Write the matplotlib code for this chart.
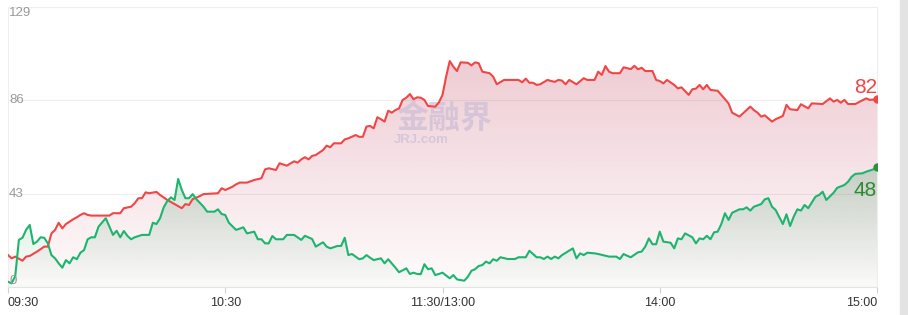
import numpy as np
import matplotlib
matplotlib.use('Agg')
import matplotlib.pyplot as plt
import matplotlib.colors as mcolors
from matplotlib.patches import Rectangle

# minutes since 09:30 (lunch break removed, 120 = 11:30/13:00)
red_t = [0, 1, 2, 4, 5, 6, 8, 9, 10, 11, 12, 13, 14, 15, 16, 18, 19, 20, 21, 22,
         23, 28, 29, 31, 32, 34, 35, 36, 37, 38, 39, 41, 42, 44, 46, 48, 49, 50, 51, 53,
         54, 58, 59, 60, 62, 63, 64, 66, 68, 70, 71, 72, 74, 75, 77, 79, 80, 81, 82, 83,
         84, 85, 87, 88, 89, 90, 92, 93, 94, 96, 97, 98, 99, 100, 101, 102, 103, 104, 105, 106,
         107, 108, 109, 110, 111, 112, 113, 114, 115, 116, 118, 119, 120, 121, 122, 123, 124, 125, 127, 128,
         129, 130, 131, 133, 134, 135, 137, 141, 142, 143, 144, 145, 146, 147, 149, 150, 151, 152, 153, 154,
         155, 157, 159, 160, 162, 163, 164, 165, 166, 167, 169, 170, 172, 173, 174, 175, 176, 178, 179, 180,
         181, 182, 184, 185, 186, 188, 189, 190, 191, 192, 193, 194, 196, 197, 199, 200, 202, 203, 205, 206,
         207, 208, 209, 211, 212, 214, 215, 216, 218, 219, 221, 222, 225, 227, 228, 229, 230, 231, 232, 234,
         237, 238, 240]
red_v = [14.7, 13.2, 14.0, 12.1, 14.0, 14.3, 16.3, 17.4, 18.6, 18.6, 24.7, 26.3, 29.6, 27.0, 29.0, 31.2, 32.1, 33.2, 34.0, 33.2,
         32.9, 32.9, 34.0, 34.0, 36.3, 37.0, 38.6, 40.9, 40.9, 43.6, 43.2, 43.8, 42.4, 40.1, 38.2, 36.3, 38.2, 37.8, 40.5, 41.9,
         42.8, 43.2, 45.5, 44.7, 46.2, 47.3, 48.1, 48.1, 49.3, 50.1, 54.2, 54.7, 53.9, 57.0, 55.9, 57.9, 57.3, 58.8, 59.8, 58.8,
         60.4, 60.8, 63.1, 65.1, 64.4, 66.2, 66.2, 68.0, 68.5, 70.0, 69.2, 69.2, 73.9, 74.2, 73.1, 78.2, 77.3, 76.2, 81.2, 80.3,
         81.5, 82.3, 86.2, 87.2, 88.9, 86.5, 87.4, 87.2, 86.2, 83.4, 83.1, 85.0, 88.5, 96.9, 104.1, 101.5, 99.5, 103.5, 103.3, 102.1,
         103.5, 103.1, 99.2, 98.5, 96.9, 93.4, 95.4, 95.4, 94.3, 96.0, 94.1, 94.1, 93.1, 93.4, 95.4, 94.9, 94.5, 95.4, 95.1, 93.4,
         95.4, 93.4, 96.2, 95.4, 95.4, 99.2, 97.7, 101.8, 99.2, 98.5, 98.5, 101.2, 100.4, 101.9, 100.3, 101.0, 99.5, 99.5, 95.4, 94.9,
         93.8, 95.4, 93.1, 91.5, 92.0, 88.5, 91.1, 91.4, 93.1, 91.1, 93.1, 90.8, 90.4, 88.5, 84.6, 80.3, 78.5, 80.0, 83.1, 81.5,
         80.3, 78.5, 79.1, 76.2, 77.3, 78.8, 83.9, 81.9, 81.5, 84.2, 82.3, 84.6, 84.3, 86.9, 85.4, 86.2, 84.9, 86.2, 84.3, 84.3,
         86.9, 86.2, 86.5]

green_t = [0, 1, 2, 3, 4, 5, 6, 7, 8, 9, 10, 11, 12, 13, 14, 15, 16, 17, 18, 19,
           20, 21, 22, 23, 24, 25, 27, 28, 29, 30, 31, 32, 33, 34, 35, 37, 39, 40, 41, 42,
           43, 44, 45, 46, 47, 48, 49, 50, 51, 52, 54, 55, 57, 58, 59, 60, 61, 63, 65, 66,
           68, 69, 70, 71, 72, 73, 74, 76, 77, 79, 81, 82, 84, 85, 87, 88, 89, 91, 92, 93,
           94, 95, 97, 98, 99, 100, 101, 103, 104, 105, 107, 108, 110, 111, 112, 113, 114, 115, 116, 117,
           118, 119, 120, 122, 123, 124, 126, 127, 128, 129, 130, 131, 132, 133, 134, 135, 136, 138, 140, 141,
           143, 144, 146, 147, 148, 149, 150, 151, 152, 153, 156, 157, 158, 159, 160, 162, 163, 165, 166, 168,
           169, 170, 171, 172, 174, 175, 176, 177, 178, 179, 180, 181, 183, 184, 185, 186, 187, 189, 190, 191,
           192, 193, 194, 195, 196, 197, 198, 199, 200, 202, 203, 204, 205, 206, 208, 209, 210, 211, 212, 214,
           215, 216, 217, 218, 219, 220, 221, 223, 224, 225, 226, 228, 229, 231, 232, 233, 234, 236, 237, 239,
           240]
green_v = [2.4, 1.7, 5.0, 21.7, 22.7, 26.3, 28.6, 19.8, 20.9, 22.9, 22.7, 20.1, 14.7, 13.2, 10.9, 8.9, 12.4, 10.9, 13.7, 12.8,
           15.8, 17.0, 22.0, 22.9, 22.9, 27.8, 31.7, 27.8, 24.0, 25.9, 22.9, 25.8, 23.5, 22.0, 22.9, 24.0, 24.0, 29.6, 29.0, 31.7,
           36.7, 39.6, 41.3, 40.1, 49.8, 44.7, 40.9, 40.9, 42.8, 40.5, 37.0, 34.7, 34.7, 35.8, 33.6, 33.2, 29.6, 26.3, 27.5, 24.7,
           25.5, 22.0, 22.0, 20.1, 20.1, 23.5, 22.0, 22.0, 24.0, 24.0, 21.7, 23.6, 22.1, 18.6, 20.6, 18.6, 17.8, 18.9, 18.9, 22.7,
           14.7, 15.2, 12.8, 13.2, 14.7, 13.5, 12.4, 13.2, 10.9, 12.8, 8.9, 6.8, 8.6, 6.0, 6.6, 6.0, 5.9, 10.5, 8.2, 8.6,
           5.5, 6.0, 6.6, 4.0, 5.5, 3.5, 2.9, 4.7, 7.5, 8.2, 9.7, 10.1, 11.7, 10.9, 12.8, 12.1, 13.7, 12.9, 12.9, 13.7,
           13.7, 16.7, 13.7, 13.7, 12.9, 14.0, 12.9, 14.0, 13.2, 14.7, 17.8, 13.2, 15.5, 14.7, 15.8, 15.5, 15.2, 14.4, 14.0, 14.0,
           12.9, 15.2, 14.4, 13.7, 16.0, 16.3, 18.6, 22.4, 19.7, 19.7, 25.5, 20.9, 20.4, 17.8, 22.4, 22.0, 24.7, 22.9, 20.1, 22.4,
           22.0, 23.6, 22.0, 25.2, 25.5, 29.0, 34.0, 30.9, 34.2, 35.8, 35.8, 36.7, 35.2, 37.0, 38.2, 40.4, 40.9, 37.0, 35.5, 29.0,
           33.5, 28.1, 32.4, 35.8, 35.2, 37.8, 36.3, 41.6, 42.4, 43.9, 40.1, 43.4, 45.7, 47.0, 48.5, 50.8, 52.1, 52.4, 53.1, 54.2,
           55.1]

tick_pos = [0, 60, 120, 180, 240]
tick_lab = ['09:30', '10:30', '11:30/13:00', '14:00', '15:00']
y_ticks = [0, 43, 86, 129]
red_label = '82'
green_label = '48'

RED = '#f24545'
GREEN = '#1db56e'

plt.rcParams['font.family'] = ['Liberation Sans', 'DejaVu Sans']


def grad_fill(ax, x, y, color, a_top, a_bot, z):
    '''area under the curve with a vertical alpha gradient'''
    poly = ax.fill_between(x, y, 0, facecolor='none', lw=0)
    path = poly.get_paths()[0]
    img = np.zeros((200, 1, 4))
    img[:, :, :3] = mcolors.to_rgb(color)
    img[:, :, 3] = np.linspace(a_top, a_bot, 200)[:, None]
    im = ax.imshow(img, aspect='auto', origin='upper', zorder=z,
                   extent=[x[0], x[-1], 0, max(y)], interpolation='bilinear')
    im.set_clip_path(path, transform=ax.transData)


fig = plt.figure(figsize=(9.08, 3.15), dpi=100)
ax = fig.add_axes([8 / 908, 28 / 315, 869 / 908, 280 / 315])

grad_fill(ax, red_t, red_v, '#c9566f', 0.30, 0.02, 1)
grad_fill(ax, green_t, green_v, '#1a8a4a', 0.22, 0.01, 2)
ax.plot(red_t, red_v, color=RED, lw=1.5, zorder=4)
ax.plot(green_t, green_v, color=GREEN, lw=1.5, zorder=5)
ax.plot(red_t[-1], red_v[-1], 'o', ms=5, color=RED, zorder=6)
ax.plot(green_t[-1], green_v[-1], 'o', ms=5, color='#2f8f3a', zorder=6)

ax.set_xlim(0, 240)
ax.set_ylim(0, 129)

# grid + y labels inside the plot
for v in y_ticks:
    ax.axhline(v, color='#eeeeee', lw=0.8, zorder=0)
    va = 'center'
    if v == 0:
        va = 'bottom'
    elif v == y_ticks[-1]:
        va = 'top'
    ax.text(0.3, v, str(v), color='#999999', fontsize=9.5, ha='left', va=va, zorder=7)

ax.set_yticks([])
ax.set_xticks(tick_pos)
ax.set_xticklabels(tick_lab, fontsize=9, color='#333333')
labs = ax.get_xticklabels()
labs[0].set_ha('left')
labs[-1].set_ha('right')
ax.tick_params(axis='x', length=4, width=0.8, color='#ccd1e0', pad=3)
for s in ax.spines.values():
    s.set_color('#eeeeee')
    s.set_linewidth(0.8)
ax.spines['bottom'].set_color('#e4e4e4')

# end labels
ax.text(240, 92, red_label, color=RED, fontsize=15, ha='right', va='center', zorder=7)
ax.text(240, 44.5, green_label, color='#2f8a2f', fontsize=15, ha='right', va='center', zorder=7)

# watermark
ax.text(120.5, 77.5, '金融界', family=['Noto Sans CJK SC'], fontweight='bold',
        fontsize=23, color='#cbbdd6', alpha=0.7, ha='center', va='center', zorder=3)
ax.text(106.5, 67.5, 'JRJ.com', fontweight='bold', fontsize=9.5,
        color='#cbbdd6', alpha=0.7, ha='left', va='center', zorder=3)

# grey strip on the right edge
fig.patches.append(Rectangle((900 / 908, 0), 8 / 908, 1, transform=fig.transFigure,
                             color='#e3e3e3'))

fig.savefig('out.png', dpi=100)
